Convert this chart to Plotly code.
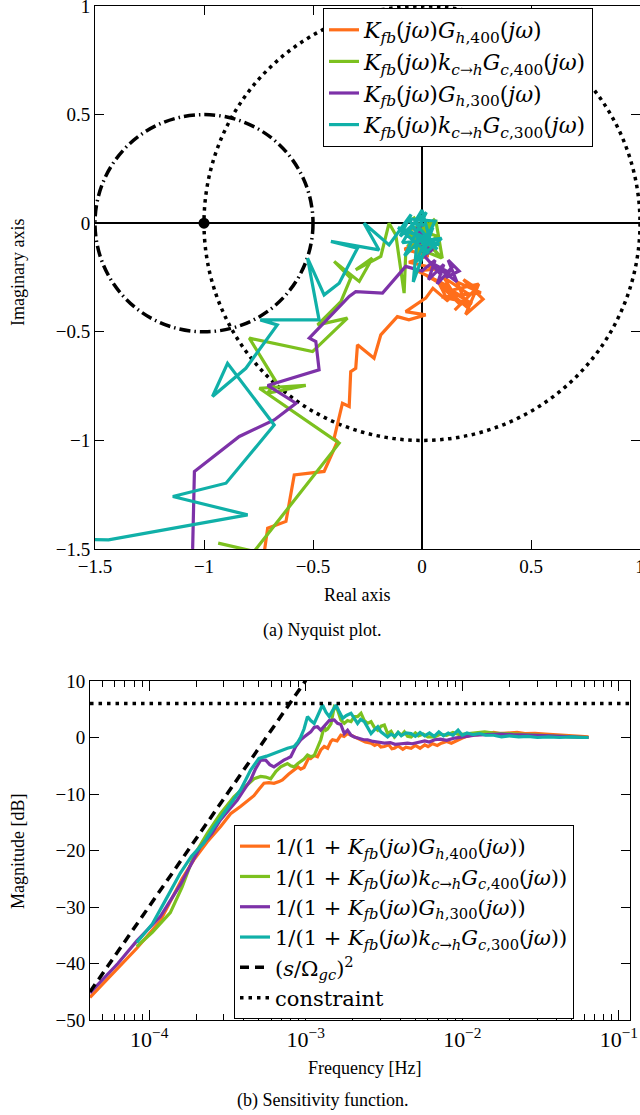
import numpy as np
import plotly.graph_objects as go

# ---------------- Nyquist data (real, imaginary) ----------------
nyq_h400_re = [-0.735, -0.723, -0.708, -0.624, -0.586, -0.449, -0.388, -0.403, -0.365, -0.334, -0.327, -0.304,
               -0.296, -0.220, -0.189, -0.113, -0.060, 0.017, -0.075, 0.017,
               0.05, 0.12, 0.08, 0.18, 0.10, 0.22, 0.15, 0.25, 0.19, 0.28, 0.20, 0.26, 0.13, 0.23, 0.09, 0.27,
               0.16, 0.21, 0.06, 0.17, 0.02, 0.12, -0.02, 0.07, -0.06, 0.03, -0.08, 0.00, -0.05, 0.01, -0.02]
nyq_h400_im = [-1.560, -1.511, -1.404, -1.373, -1.159, -1.143, -1.005, -0.990, -0.829, -0.844, -0.683, -0.668,
               -0.560, -0.622, -0.514, -0.430, -0.445, -0.422, -0.407, -0.345,
               -0.30, -0.36, -0.28, -0.38, -0.25, -0.33, -0.40, -0.30, -0.26, -0.35, -0.42, -0.28, -0.31, -0.37, -0.34, -0.32,
               -0.27, -0.39, -0.26, -0.33, -0.24, -0.29, -0.22, -0.21, -0.18, -0.15, -0.12, -0.08, -0.05, -0.03, -0.01]

nyq_c400_re = [-0.935, -0.770, -0.380, -0.746, -0.533, -0.708, -0.670, -0.792, -0.502, -0.342, -0.479, -0.372,
               -0.327, -0.403, -0.288, -0.228, -0.304, -0.189, -0.151, -0.120, -0.082, -0.075, 0.063, 0.093,
               -0.02, 0.06, -0.06, 0.09, 0.02, -0.04, 0.05, -0.08, 0.03, -0.02, 0.07, -0.05, 0.01, 0.00]
nyq_c400_im = [-1.473, -1.511, -1.013, -0.760, -0.747, -0.783, -0.729, -0.529, -0.591, -0.437, -0.468, -0.361,
               -0.253, -0.176, -0.268, -0.161, -0.215, -0.153, 0.000, -0.054, -0.322, -0.146, 0.015, -0.161,
               -0.05, 0.02, -0.10, -0.16, -0.08, 0.03, -0.12, -0.04, 0.00, -0.14, -0.06, -0.02, -0.03, -0.01]

nyq_h300_re = [-1.062, -1.052, -1.044, -0.838, -0.678, -0.578, -0.708, -0.472, -0.487, -0.517, -0.334, -0.304,
               -0.181, -0.075, 0.00, 0.06, 0.03, 0.10, 0.07, 0.14, 0.11, 0.17, 0.12, 0.16, 0.08, 0.13, 0.04,
               0.09, 0.01, 0.05, -0.02, 0.02, -0.03, 0.00]
nyq_h300_im = [-1.560, -1.496, -1.143, -0.982, -0.906, -0.829, -0.747, -0.675, -0.545, -0.529, -0.337, -0.315,
               -0.322, -0.199, -0.22, -0.17, -0.26, -0.19, -0.28, -0.20, -0.25, -0.22, -0.17, -0.27, -0.21, -0.23, -0.18,
               -0.24, -0.15, -0.12, -0.10, -0.06, -0.03, -0.01]

nyq_c300_re = [-1.560, -1.438, -0.800, -1.143, -0.899, -0.678, -0.892, -0.961, -0.808, -0.664, -0.742, -0.472,
               -0.525, -0.449, -0.380, -0.296, -0.418, -0.197, -0.266, -0.151,
               -0.05, -0.10, 0.02, -0.08, 0.05, -0.04, -0.02, 0.08, -0.11, 0.03, -0.06, 0.06, -0.03, 0.09,
               -0.09, 0.00, 0.04, -0.07, 0.07, -0.01, 0.02, -0.03, 0.01, 0.00]
nyq_c300_im = [-1.455, -1.458, -1.343, -1.258, -1.197, -0.929, -0.645, -0.798, -0.668, -0.468, -0.445, -0.445,
               -0.161, -0.330, -0.276, -0.115, -0.084, -0.123, 0.000, -0.100,
               0.04, -0.06, 0.05, -0.15, -0.02, -0.27, -0.05, -0.10, -0.02, -0.14, 0.02, 0.01, -0.18, -0.07,
               -0.09, 0.06, -0.09, -0.03, -0.12, -0.02, -0.06, 0.00, -0.01, -0.005]

critical_point_re = [-1.0]
critical_point_im = [0.0]

# ---------------- Sensitivity data (log10 of frequency in Hz, magnitude in dB) ----------------
s_h400_logf = [-4.378, -4.079, -3.930, -3.865, -3.790, -3.716, -3.630, -3.545, -3.480, -3.417, -3.370, -3.331,
               -3.300, -3.267, -3.235, -3.203, -3.170, -3.149, -3.110, -3.075, -3.050, -3.032, -3.011, -2.979,
               -2.968, -2.946, -2.925, -2.904, -2.882, -2.860, -2.840, -2.829, -2.800, -2.776, -2.755, -2.733,
               -2.711, -2.690, -2.667, -2.647, -2.620, -2.583, -2.560, -2.540, -2.520, -2.498, -2.470, -2.450,
               -2.434, -2.410, -2.380, -2.360, -2.327, -2.300, -2.270, -2.240, -2.219, -2.190, -2.160, -2.134,
               -2.100, -2.070, -2.027, -2.000, -1.970, -1.942, -1.900, -1.870, -1.835, -1.800, -1.760, -1.707,
               -1.650, -1.600, -1.536, -1.470, -1.420, -1.365, -1.300, -1.250, -1.194]
s_h400_db = [-46.0, -37.3, -32.5, -29.0, -25.0, -21.7, -18.5, -15.8, -13.5, -12.2, -11.2, -10.3,
             -9.2, -8.1, -8.0, -8.1, -7.8, -7.5, -6.5, -5.7, -5.2, -5.6, -5.3, -3.5,
             -3.7, -3.2, -3.4, -2.2, -1.6, -1.9, -0.7, -0.4, -0.6, 0.4, 0.2, 0.7,
             0.4, 0.1, -0.2, -0.4, -0.8, -1.0, -1.4, -1.1, -1.7, -1.6, -1.3, -2.0,
             -1.9, -1.5, -2.1, -1.7, -1.9, -1.4, -1.9, -1.3, -1.6, -1.1, -1.4, -1.0,
             -0.7, -1.0, -0.4, -0.1, 0.2, 0.4, 0.5, 0.8, 0.7, 0.9, 0.7, 0.85,
             0.9, 0.7, 0.74, 0.6, 0.5, 0.44, 0.3, 0.2, 0.1]

s_c400_logf = [-4.079, -3.980, -3.865, -3.790, -3.716, -3.630, -3.545, -3.500, -3.459, -3.420, -3.374, -3.330,
               -3.288, -3.256, -3.224, -3.190, -3.160, -3.117, -3.096, -3.075, -3.050, -3.032, -3.011, -2.989,
               -2.968, -2.946, -2.925, -2.904, -2.882, -2.871, -2.861, -2.850, -2.839, -2.818, -2.797, -2.776,
               -2.754, -2.733, -2.711, -2.690, -2.669, -2.647, -2.626, -2.605, -2.583, -2.562, -2.540, -2.519,
               -2.498, -2.477, -2.455, -2.434, -2.410, -2.390, -2.370, -2.350, -2.327, -2.300, -2.280, -2.250,
               -2.220, -2.177, -2.140, -2.100, -2.060, -2.020, -1.963, -1.910, -1.857, -1.800, -1.740, -1.680,
               -1.600, -1.520, -1.440, -1.360, -1.280, -1.194]
s_c400_db = [-37.0, -34.5, -31.0, -26.5, -21.0, -17.0, -13.5, -12.0, -10.5, -9.5, -8.3, -7.3,
             -6.9, -7.0, -7.3, -6.0, -5.2, -4.6, -5.0, -5.2, -4.6, -4.3, -3.8, -3.1,
             -3.4, -3.2, -1.8, -0.4, 1.9, 1.3, 1.5, 1.9, 2.4, 5.4, 4.9, 3.1,
             2.5, 3.0, 2.8, 3.7, 3.7, 4.3, 3.0, 2.5, 2.8, 1.8, 1.3, 2.0,
             2.2, 0.7, 1.1, 0.1, 0.9, 0.4, 1.0, 0.2, 0.1, 0.8, 0.3, 0.6,
             0.1, 0.1, 0.6, 0.4, 0.9, 0.5, 0.7, 0.9, 1.0, 0.8, 0.7, 0.6,
             0.5, 0.4, 0.3, 0.2, 0.1, 0.0]

s_h300_logf = [-4.378, -4.200, -4.079, -3.929, -3.800, -3.673, -3.600, -3.545, -3.490, -3.438, -3.400, -3.352,
               -3.320, -3.288, -3.256, -3.230, -3.203, -3.170, -3.140, -3.117, -3.096, -3.064, -3.032, -3.011,
               -2.979, -2.968, -2.946, -2.925, -2.904, -2.882, -2.861, -2.850, -2.818, -2.797, -2.776, -2.754,
               -2.733, -2.711, -2.690, -2.660, -2.630, -2.605, -2.570, -2.540, -2.498, -2.460, -2.430, -2.391,
               -2.350, -2.320, -2.284, -2.240, -2.210, -2.177, -2.140, -2.100, -2.049, -2.000, -1.960, -1.921,
               -1.850, -1.800, -1.750, -1.680, -1.600, -1.520, -1.440, -1.360, -1.280, -1.194]
s_h300_db = [-45.2, -40.0, -36.0, -31.7, -26.0, -19.3, -17.0, -14.6, -12.8, -11.1, -9.5, -7.5,
             -5.5, -4.0, -4.0, -4.8, -5.2, -4.5, -4.0, -3.7, -3.4, -1.6, -0.4, 0.1,
             0.8, 1.0, 1.8, 1.9, 1.3, 2.0, 2.8, 3.0, 3.1, 2.5, 2.3, 0.7,
             1.3, 0.4, 0.1, -0.1, -0.4, -0.4, -0.7, -0.8, -1.0, -0.9, -1.2, -1.1,
             -1.0, -1.1, -0.9, -0.6, -0.8, -0.4, -0.3, -0.5, -0.1, 0.1, 0.2, 0.4,
             0.5, 0.6, 0.6, 0.5, 0.5, 0.4, 0.3, 0.2, 0.1, 0.0]

s_c300_logf = [-4.079, -3.980, -3.900, -3.801, -3.730, -3.652, -3.590, -3.524, -3.470, -3.417, -3.380, -3.352,
               -3.320, -3.299, -3.250, -3.203, -3.160, -3.117, -3.075, -3.050, -3.032, -3.011, -2.989, -2.968,
               -2.946, -2.920, -2.893, -2.871, -2.850, -2.828, -2.807, -2.785, -2.764, -2.740, -2.711, -2.690,
               -2.669, -2.650, -2.626, -2.605, -2.583, -2.560, -2.540, -2.520, -2.498, -2.477, -2.455, -2.430,
               -2.410, -2.390, -2.360, -2.327, -2.300, -2.270, -2.240, -2.210, -2.180, -2.150, -2.120, -2.090,
               -2.060, -2.027, -2.000, -1.970, -1.930, -1.890, -1.850, -1.800, -1.750, -1.700, -1.640, -1.580,
               -1.520, -1.450, -1.380, -1.300, -1.250, -1.194]
s_c300_db = [-36.3, -33.0, -29.0, -24.0, -21.0, -18.7, -16.0, -13.5, -11.5, -9.3, -7.3, -5.75,
             -4.5, -3.7, -3.3, -2.8, -2.3, -1.9, -1.6, -0.8, 0.1, 1.5, 3.7, 3.0,
             2.5, 4.0, 5.75, 4.5, 3.7, 4.8, 5.75, 4.5, 3.4, 3.9, 4.3, 3.4,
             2.5, 3.2, 2.8, 1.8, 0.7, 1.4, 1.9, 1.0, 0.6, 0.1, 0.6, 0.2,
             0.9, 0.3, 0.8, 0.7, 0.2, 0.9, 0.3, 0.8, 0.2, 1.0, 0.3, 0.8,
             0.4, 1.3, 0.4, 0.8, 0.5, 0.7, 0.4, 0.4, 0.1, 0.3, 0.1, 0.2,
             0.0, 0.1, 0.0, 0.1, 0.0, 0.0]

asym_freq = [4.19e-5, 1.0e-3]
asym_db = [-45.0, 10.1]
constraint_freq = [4.19e-5, 0.1177]
constraint_db = [6.0, 6.0]

# ---------------- styling ----------------
C_OR = "#FF6E1A"
C_GR = "#7CC11F"
C_PU = "#7D32A8"
C_TE = "#10B0A8"
W, H = 640, 1115
LW = 3.2
FONT = "Liberation Serif, Times New Roman, Times, serif"
LFONT = "DejaVu Serif, serif"

def fx(p):
    return p / W

def fy(p):
    return 1 - p / H

def hz(logs):
    return [10 ** v for v in logs]

KFB = "<i>K</i><sub><i>fb</i></sub>(<i>jω</i>)"
GH400 = "<i>G</i><sub><i>h</i>,400</sub>(<i>jω</i>)"
GH300 = "<i>G</i><sub><i>h</i>,300</sub>(<i>jω</i>)"
KCH = "<i>k</i><sub><i>c</i>→<i>h</i></sub>"
GC400 = "<i>G</i><sub><i>c</i>,400</sub>(<i>jω</i>)"
GC300 = "<i>G</i><sub><i>c</i>,300</sub>(<i>jω</i>)"

fig = go.Figure()

nyq = [
    (nyq_h400_re, nyq_h400_im, C_OR, KFB + GH400),
    (nyq_c400_re, nyq_c400_im, C_GR, KFB + KCH + GC400),
    (nyq_h300_re, nyq_h300_im, C_PU, KFB + GH300),
    (nyq_c300_re, nyq_c300_im, C_TE, KFB + KCH + GC300),
]
for re_, im_, col, name in nyq:
    fig.add_trace(go.Scatter(x=re_, y=im_, mode="lines", line=dict(color=col, width=LW),
                             name=name, legend="legend", xaxis="x", yaxis="y"))

fig.add_trace(go.Scatter(x=critical_point_re, y=critical_point_im, mode="markers",
                         marker=dict(color="black", size=11), showlegend=False, xaxis="x", yaxis="y"))

sens = [
    (s_h400_logf, s_h400_db, C_OR, "1/(1 + " + KFB + GH400 + ")"),
    (s_c400_logf, s_c400_db, C_GR, "1/(1 + " + KFB + KCH + GC400 + ")"),
    (s_h300_logf, s_h300_db, C_PU, "1/(1 + " + KFB + GH300 + ")"),
    (s_c300_logf, s_c300_db, C_TE, "1/(1 + " + KFB + KCH + GC300 + ")"),
]
for lf, db, col, name in sens:
    fig.add_trace(go.Scatter(x=hz(lf), y=db, mode="lines", line=dict(color=col, width=LW),
                             name=name, legend="legend2", xaxis="x2", yaxis="y2"))

fig.add_trace(go.Scatter(x=asym_freq, y=asym_db, mode="lines",
                         line=dict(color="black", width=3.5, dash="9px,6px"),
                         name="(<i>s</i>/Ω<sub><i>gc</i></sub>)<sup>2</sup>", legend="legend2",
                         xaxis="x2", yaxis="y2"))
fig.add_trace(go.Scatter(x=constraint_freq, y=constraint_db, mode="lines",
                         line=dict(color="black", width=3.5, dash="3.5px,5px"),
                         name="constraint", legend="legend2", xaxis="x2", yaxis="y2"))

# reference circles
fig.add_shape(type="circle", xref="x", yref="y", x0=-1, y0=-1, x1=1, y1=1,
              line=dict(color="black", width=3.5, dash="3.5px,4.5px"), layer="below")
fig.add_shape(type="circle", xref="x", yref="y", x0=-1.5, y0=-0.5, x1=-0.5, y1=0.5,
              line=dict(color="black", width=3.5, dash="11px,4px,1.5px,4px"), layer="below")

axis_common = dict(showline=True, linecolor="black", linewidth=1, mirror="ticks", ticks="inside",
                   tickcolor="black", tickwidth=1, showgrid=False, automargin=False,
                   ticklabeloverflow="allow")

nyq_ticks = [-1.5, -1, -0.5, 0, 0.5, 1]
nyq_text = ["−1.5", "−1", "−0.5", "0", "0.5", "1"]

minor_vals = [k * 10.0 ** e for e in range(-5, 0) for k in range(2, 10)]

fig.update_layout(
    width=W, height=H, margin=dict(l=0, r=0, t=0, b=0, autoexpand=False),
    paper_bgcolor="white", plot_bgcolor="white",
    font=dict(family=FONT, size=17, color="black"),
    xaxis=dict(domain=[fx(95), 1.0], range=[-1.5, 1], anchor="y", tickvals=nyq_ticks, ticktext=nyq_text,
               ticklen=9, zeroline=True, zerolinecolor="black", zerolinewidth=2,
               tickfont=dict(family=FONT, size=19, color="black"), **axis_common),
    yaxis=dict(domain=[fy(549), fy(6)], range=[-1.5, 1], anchor="x", tickvals=nyq_ticks, ticktext=nyq_text,
               ticklen=9, zeroline=True, zerolinecolor="black", zerolinewidth=2,
               tickfont=dict(family=FONT, size=19, color="black"), **axis_common),
    xaxis2=dict(type="log", domain=[fx(90), fx(630)], range=[-4.378, -0.929], anchor="y2",
                tickvals=[1e-4, 1e-3, 1e-2, 1e-1],
                ticktext=["10<sup>−4</sup>", "10<sup>−3</sup>", "10<sup>−2</sup>", "10<sup>−1</sup>"],
                ticklen=10, zeroline=False,
                tickfont=dict(family=FONT, size=22, color="black"),
                minor=dict(tickvals=minor_vals, ticks="inside", ticklen=6, tickcolor="black", tickwidth=1),
                **axis_common),
    yaxis2=dict(domain=[fy(1020), fy(681)], range=[-50, 10], anchor="x2",
                tickvals=[-50, -40, -30, -20, -10, 0, 10],
                ticktext=["−50", "−40", "−30", "−20", "−10", "0", "10"],
                ticklen=9, zeroline=False,
                tickfont=dict(family=FONT, size=19, color="black"), **axis_common),
    legend=dict(x=fx(323), y=fy(8), xanchor="left", yanchor="top", bgcolor="white",
                bordercolor="black", borderwidth=1, font=dict(family=LFONT, size=22, color="black"),
                tracegroupgap=0),
    legend2=dict(x=fx(234), y=fy(825), xanchor="left", yanchor="top", bgcolor="white",
                 bordercolor="black", borderwidth=1, font=dict(family=LFONT, size=21, color="black"),
                 tracegroupgap=0),
    showlegend=True,
)

ann = [
    ("Real axis", 357, 595, 0),
    ("Imaginary axis", 18, 273, -90),
    ("(a) Nyquist plot.", 322, 630, 0),
    ("Magnitude [dB]", 18, 852, -90),
    ("Frequency [Hz]", 364, 1068, 0),
    ("(b) Sensitivity function.", 322, 1100, 0),
]
for text, x, y, ang in ann:
    fig.add_annotation(text=text, x=fx(x), y=fy(y), xref="paper", yref="paper", showarrow=False,
                       xanchor="center", yanchor="middle", textangle=ang,
                       font=dict(family=FONT, size=18, color="black"))

fig.write_html("out.html")
